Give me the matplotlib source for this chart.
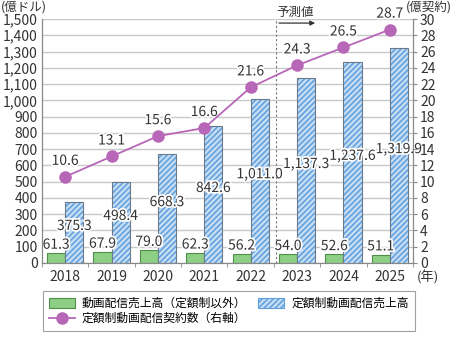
import matplotlib.pyplot as plt
import matplotlib.patheffects as pe
from matplotlib.patches import Patch
import numpy as np

plt.rcParams['font.family'] = ['Noto Sans CJK JP', 'DejaVu Sans']
plt.rcParams['hatch.linewidth'] = 1.1

years = ['2018', '2019', '2020', '2021', '2022', '2023', '2024', '2025']
sales_other = [61.3, 67.9, 79.0, 62.3, 56.2, 54.0, 52.6, 51.1]
sales_subscription = [375.3, 498.4, 668.3, 842.6, 1011.0, 1137.3, 1237.6, 1319.9]
contracts = [10.6, 13.1, 15.6, 16.6, 21.6, 24.3, 26.5, 28.7]

label_other = '動画配信売上高（定額制以外）'
label_sub = '定額制動画配信売上高'
label_contracts = '定額制動画配信契約数（右軸）'

GREEN = '#8ccf85'
GREEN_EDGE = '#4f8f4a'
BLUE_FACE = '#c4ddf5'
BLUE_HATCH = '#5f9fdc'
PURPLE = '#b866b8'
GRID = '#c8c8c8'
SPINE = '#888888'
TEXT = '#333333'

fig = plt.figure(figsize=(4.53, 3.37), dpi=100)
ax = fig.add_axes([0.0927, 0.2196, 0.819, 0.724])
ax2 = ax.twinx()

x = np.arange(len(years))
w = 0.39
stroke = [pe.withStroke(linewidth=2.5, foreground='white')]

# 棒グラフ（定額制以外 / 定額制）
ax.bar(x - w / 2, sales_other, w, color=GREEN, edgecolor=GREEN_EDGE,
       linewidth=0.8, zorder=3)
ax.bar(x + w / 2, sales_subscription, w, color=BLUE_FACE, edgecolor=BLUE_HATCH,
       hatch='//////', linewidth=0, zorder=3)
ax.bar(x + w / 2, sales_subscription, w, fill=False, edgecolor='#6b7a8a',
       linewidth=0.8, zorder=3)

for xi, v in zip(x, sales_other):
    ax.text(xi - w / 2, v + 8, f'{v:.1f}', ha='center', va='bottom',
            fontsize=10, color=TEXT, zorder=5, path_effects=stroke)
for xi, v in zip(x, sales_subscription):
    ax.text(xi + w / 2, v * 0.5 + 40, f'{v:,.1f}', ha='center', va='center',
            fontsize=10, color=TEXT, zorder=5, path_effects=stroke)

ax.set_xlim(-0.5, len(years) - 0.5)
ax.set_ylim(0, 1500)
ax.set_yticks(np.arange(0, 1501, 100))
ax.set_yticklabels([f'{v:,}' for v in range(0, 1501, 100)])
ax.set_xticks(x)
ax.set_xticklabels(years)
ax.set_xticks(np.arange(-0.5, len(years), 1), minor=True)
ax.tick_params(axis='x', which='major', length=0, pad=5, labelsize=10, labelcolor=TEXT)
ax.tick_params(axis='x', which='minor', length=3, color=SPINE)
ax.tick_params(axis='y', length=0, pad=3, labelsize=10, labelcolor=TEXT)
ax.grid(axis='y', color=GRID, linewidth=1.0, zorder=0)
ax.set_axisbelow(True)

# 契約数（右軸）
l1, = ax2.plot(x, contracts, color=PURPLE, linewidth=1.3, marker='o',
               markersize=8, zorder=4)
for xi, v in zip(x, contracts):
    ax2.text(xi, v + 1.1, f'{v:.1f}', ha='center', va='bottom',
             fontsize=10, color=TEXT, path_effects=stroke)
ax2.set_ylim(0, 30)
ax2.set_yticks(np.arange(0, 31, 2))
ax2.tick_params(axis='y', length=3, color=SPINE, pad=2, labelsize=10, labelcolor=TEXT)

for a in (ax, ax2):
    a.spines['top'].set_visible(False)
    for s in ('left', 'right', 'bottom'):
        a.spines[s].set_color(SPINE)
ax.set_zorder(0)
ax2.set_zorder(1)
ax2.patch.set_visible(False)

# 予測値の区切り
ax2.axvline(4.55, color='#777777', linestyle=(0, (2, 2)), linewidth=0.8, zorder=2)
ax2.annotate('', xy=(5.45, 29.5), xytext=(4.55, 29.5),
             arrowprops=dict(arrowstyle='-|>', color='#333333', lw=0.9,
                             mutation_scale=7))
fig.text(295 / 453, 1 - 12 / 337, '予測値', ha='center', va='center',
         fontsize=9, color=TEXT)

fig.text(1 / 453, 1 - 7 / 337, '(億ドル)', ha='left', va='center',
         fontsize=9, color=TEXT)
fig.text(452 / 453, 1 - 7 / 337, '(億契約)', ha='right', va='center',
         fontsize=9, color=TEXT)
fig.text(428 / 453, 1 - 278 / 337, '(年)', ha='center', va='center',
         fontsize=9.5, color=TEXT)

# 凡例
h_other = Patch(facecolor=GREEN, edgecolor=GREEN_EDGE, linewidth=0.8)
h_sub = Patch(facecolor=BLUE_FACE, edgecolor=BLUE_HATCH, hatch='//////', linewidth=0.8)
leg = fig.legend([h_other, l1, h_sub], [label_other, label_contracts, label_sub],
                 ncol=2, loc='lower center', bbox_to_anchor=(0.505, 0.0),
                 fontsize=8.5, frameon=True, fancybox=False, edgecolor='#888888',
                 handlelength=2.2, handleheight=0.9, columnspacing=1.0,
                 handletextpad=0.6, labelspacing=0.2, borderpad=0.5)
leg.get_frame().set_linewidth(0.8)

fig.savefig('out.png', dpi=100)
